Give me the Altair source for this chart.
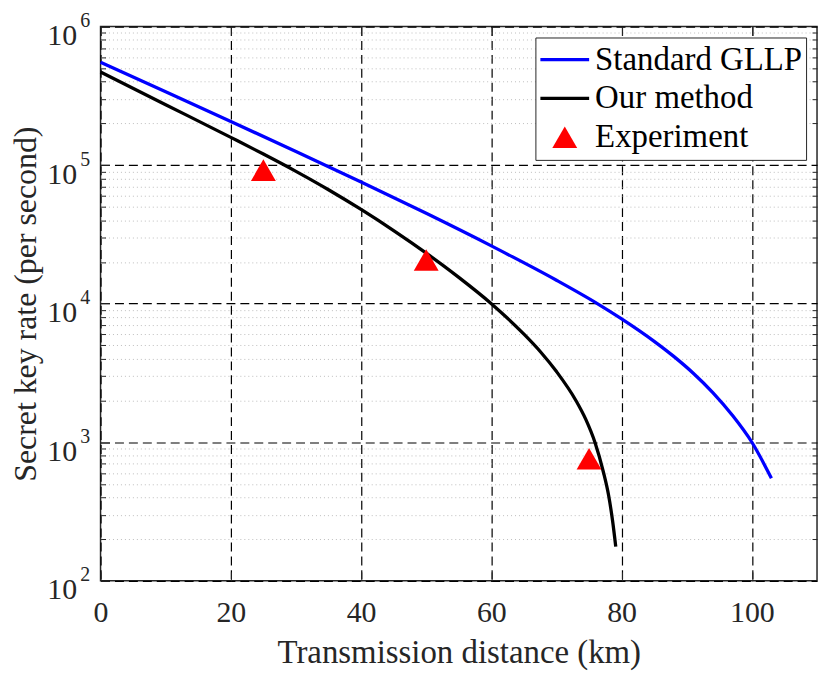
import altair as alt
import pandas as pd

# ---- data ----
gllp_x = [0, 10, 20, 30, 40, 50, 60, 70, 76.2, 80, 85, 88, 91, 94, 97, 100, 103]
gllp_y = [5.53e5, 3.39e5, 2.065e5, 1.253e5, 7.55e4, 4.487e4, 2.612e4, 1.476e4,
          1.006e4, 7.77e3, 5.35e3, 4.165e3, 3.148e3, 2.283e3, 1.567e3, 1.0e3, 5.5e2]

our_x = [0, 10, 20, 25, 30, 35, 40, 45, 50, 55, 60, 65, 67.5, 70, 73, 74.5, 75.9,
         77.2, 78, 78.6, 79.1]
our_y = [4.7e5, 2.73e5, 1.585e5, 1.202e5, 9.02e4, 6.645e4, 4.786e4, 3.37e4,
         2.317e4, 1.549e4, 1.0e4, 6.026e3, 4.519e3, 3.236e3, 1.995e3, 1.462e3,
         1.0e3, 6.1e2, 4.14e2, 2.735e2, 1.766e2]

exp_x = [25, 50, 75]
exp_y = [9.2e4, 2.07e4, 7.6e2]

series_names = ["Standard GLLP", "Our method", "Experiment"]
series_colors = ["#0000ff", "#000000", "transparent"]
series_fills = ["transparent", "transparent", "#ff0000"]
series_shapes = ["M-1,0L1,0", "M-1,0L1,0", "M0,-0.442L0.51,0.442L-0.51,0.442Z"]

x_ticks = [0, 20, 40, 60, 80, 100]
y_major = [1e2, 1e3, 1e4, 1e5, 1e6]
y_minor = [m * 10 ** e for e in range(2, 6) for m in range(2, 10)]

lines_df = pd.concat([
    pd.DataFrame({"x": gllp_x, "y": gllp_y, "series": series_names[0]}),
    pd.DataFrame({"x": our_x, "y": our_y, "series": series_names[1]}),
])
exp_df = pd.DataFrame({"x": exp_x, "y": exp_y, "series": series_names[2]})

FONT = "Liberation Serif"
INK = "#262626"

xs = alt.Scale(domain=[0, 110], nice=False, zero=False)
ys = alt.Scale(type="log", domain=[100, 1e6], nice=False)
stroke_scale = alt.Scale(domain=series_names, range=series_colors)

legend_kw = dict(
    orient="top-right", offset=11, fillColor="white",
    strokeColor=INK, padding=3, labelFont=FONT, labelFontSize=33,
    labelColor="black", symbolStrokeWidth=3.3, labelOffset=4, labelLimit=400,
    symbolSize=2400, rowPadding=0, clipHeight=38.5,
)

# minor grid, left minor ticks, top ticks
minor = alt.Chart(lines_df).mark_line(opacity=0).encode(
    x=alt.X("x:Q", scale=xs, axis=alt.Axis(
        values=x_ticks, orient="top", labels=False, ticks=True, tickSize=9,
        offset=-9, grid=False, domain=False, title=None, tickColor=INK)),
    y=alt.Y("y:Q", scale=ys, axis=alt.Axis(
        values=y_minor, orient="left", labels=False, ticks=True, tickSize=5,
        offset=-5, grid=True, gridDash=[1, 3], gridColor="#bdbdbd",
        gridWidth=1, domain=False, title=None, tickColor=INK)),
    detail="series:N",
)

# right minor ticks
right = alt.Chart(lines_df).mark_line(opacity=0).encode(
    x=alt.X("x:Q", scale=xs, axis=None),
    y=alt.Y("y:Q", scale=ys, axis=alt.Axis(
        values=y_minor, orient="right", labels=False, ticks=True, tickSize=5,
        offset=-5, grid=False, domain=False, title=None, tickColor=INK)),
    detail="series:N",
)

lines = alt.Chart(lines_df).mark_line(strokeWidth=3.3, interpolate="monotone").encode(
    x=alt.X("x:Q", scale=xs, axis=alt.Axis(
        values=x_ticks, orient="bottom", title="Transmission distance (km)",
        grid=True, gridDash=[9, 5], gridColor="black", gridWidth=1.2,
        gridOpacity=1, domain=False, ticks=True, tickSize=9, tickColor=INK,
        offset=-9, labelPadding=41, labelBaseline="alphabetic", labelFont=FONT,
        labelFontSize=30, labelColor=INK, labelFlush=False, titleFont=FONT,
        titleFontSize=33, titleFontWeight="normal", titleColor=INK,
        titleBaseline="alphabetic", titleY=91)),
    y=alt.Y("y:Q", scale=ys, axis=alt.Axis(
        values=y_major, orient="left", title="Secret key rate (per second)",
        labelExpr="'10'", grid=True, gridDash=[9, 5], gridColor="black",
        gridWidth=1.2, gridOpacity=1, domain=False, ticks=True, tickSize=9,
        tickColor=INK, offset=-9, labelPadding=24, labelAlign="right",
        labelBaseline="alphabetic", labelOffset=18, labelFont=FONT,
        labelFontSize=30, labelColor=INK, labelFlush=False, titleFont=FONT,
        titleFontSize=32, titleFontWeight="normal", titleColor=INK,
        titleBaseline="alphabetic", titleX=-74)),
    stroke=alt.Stroke("series:N", title="", scale=stroke_scale,
                      legend=alt.Legend(**legend_kw)),
)

pts = alt.Chart(exp_df).mark_point(opacity=1, size=2400, strokeWidth=3.3).encode(
    x=alt.X("x:Q", scale=xs, axis=None),
    y=alt.Y("y:Q", scale=ys, axis=alt.Axis(
        values=y_major, orient="left", title=None,
        labelExpr="'' + round(log(datum.value) / LN10)", grid=False,
        ticks=False, domain=False, labelPadding=11, labelAlign="right",
        labelBaseline="alphabetic", labelOffset=0, labelFont=FONT,
        labelFontSize=20, labelColor=INK, labelFlush=False)),
    shape=alt.Shape("series:N", title="", scale=alt.Scale(domain=series_names, range=series_shapes),
                    legend=alt.Legend(**legend_kw)),
    fill=alt.Fill("series:N", title="", scale=alt.Scale(domain=series_names, range=series_fills),
                  legend=alt.Legend(**legend_kw)),
    stroke=alt.Stroke("series:N", title="", scale=stroke_scale, legend=alt.Legend(**legend_kw)),
)

chart = alt.layer(minor, right, lines, pts).resolve_scale(
    x="independent", y="independent"
).properties(
    width=720, height=557,
    autosize=alt.AutoSizeParams(type="none"),
    padding={"left": 93, "top": 17, "right": 5, "bottom": 92},
    background="white",
).configure(font=FONT).configure_axis(
    labelFont=FONT, titleFont=FONT
).configure_legend(
    labelFont=FONT
).configure_view(stroke=INK, strokeWidth=1.5)

chart.save("out.html", embed_options={"renderer": "svg", "actions": False})
